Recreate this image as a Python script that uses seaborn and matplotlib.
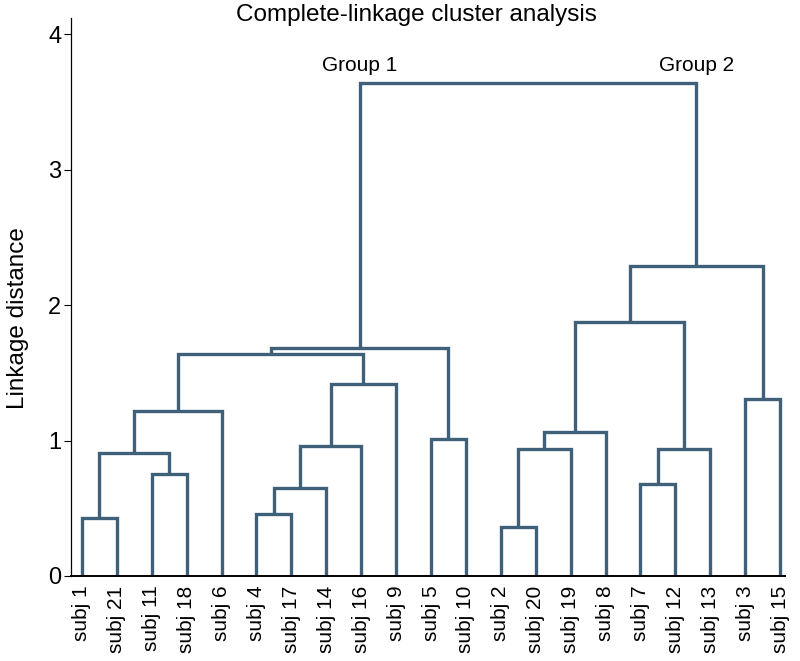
import pandas as pd
import seaborn as sns
import matplotlib.pyplot as plt

# leaves in display order (ids 0..20)
leaves = ["subj 1", "subj 21", "subj 11", "subj 18", "subj 6", "subj 4", "subj 17",
          "subj 14", "subj 16", "subj 9", "subj 5", "subj 10", "subj 2", "subj 20",
          "subj 19", "subj 8", "subj 7", "subj 12", "subj 13", "subj 3", "subj 15"]

# merges: new cluster ids start at 21
merge_left = [0, 2, 21, 23, 5, 25, 26, 27, 24, 10, 29, 12, 32, 33, 16, 35, 34, 19, 37, 31]
merge_right = [1, 3, 22, 4, 6, 7, 8, 9, 28, 11, 30, 13, 14, 15, 17, 18, 36, 20, 38, 39]
merge_height = [0.43, 0.75, 0.91, 1.22, 0.46, 0.65, 0.96, 1.42, 1.64, 1.01, 1.68,
                0.36, 0.94, 1.06, 0.68, 0.94, 1.875, 1.31, 2.29, 3.64]

group_labels = ["Group 1", "Group 2"]

# position of every node
pos_x = {i: float(i) for i in range(len(leaves))}
pos_y = {i: 0.0 for i in range(len(leaves))}
rows = []
for k, (a, b, h) in enumerate(zip(merge_left, merge_right, merge_height)):
    node = len(leaves) + k
    pos_x[node] = (pos_x[a] + pos_x[b]) / 2
    pos_y[node] = h
    pts = [(pos_x[a], pos_y[a]), (pos_x[a], h), (pos_x[b], h), (pos_x[b], pos_y[b])]
    for j, (x, y) in enumerate(pts):
        rows.append({"link": k, "order": j, "x": x, "y": y})
segs = pd.DataFrame(rows)

sns.set_style("white")
plt.rcParams['font.family'] = ['Liberation Sans', 'DejaVu Sans']
plt.rcParams.update({"text.color": "black", "xtick.color": "black",
                     "ytick.color": "black", "axes.labelcolor": "black"})

fig = plt.figure(figsize=(8, 6.61), dpi=100)
ax = fig.add_axes([0.0888, 0.1286, 0.8925, 0.8442])

sns.lineplot(data=segs, x="x", y="y", units="link", estimator=None, sort=False,
             color="#3e6079", linewidth=2.4, ax=ax)
for line in ax.get_lines():
    line.set_solid_joinstyle("miter")
    line.set_solid_capstyle("butt")

# group labels over the two legs of the top link
top = len(merge_height) - 1
for lbl, node in zip(group_labels, [merge_left[top], merge_right[top]]):
    ax.text(pos_x[node], 3.77, lbl, ha="center", va="center", fontsize=15)

ax.set_xlim(-0.31, 20.14)
ax.set_ylim(0, 4.12)
ax.set_xticks(range(len(leaves)))
ax.set_xticklabels(leaves, rotation=90, fontsize=15)
ax.set_yticks([0, 1, 2, 3, 4])
ax.tick_params(axis="y", labelsize=17, length=5, width=0.8, left=True, pad=2)
ax.tick_params(axis="x", length=0, pad=7)
ax.set_xlabel("")
ax.set_ylabel("")
for s in ["top", "right"]:
    ax.spines[s].set_visible(False)
ax.spines["left"].set_color("black")
ax.spines["left"].set_linewidth(0.9)
ax.spines["bottom"].set_color("black")
ax.spines["bottom"].set_linewidth(1.4)

fig.text(0.022, 1 - 318.5 / 661, "Linkage distance", rotation=90,
         ha="center", va="center", fontsize=17.5)
fig.text(0.52, 0.978, "Complete-linkage cluster analysis", ha="center", va="center", fontsize=17.5)

fig.savefig("out.png", dpi=100)
